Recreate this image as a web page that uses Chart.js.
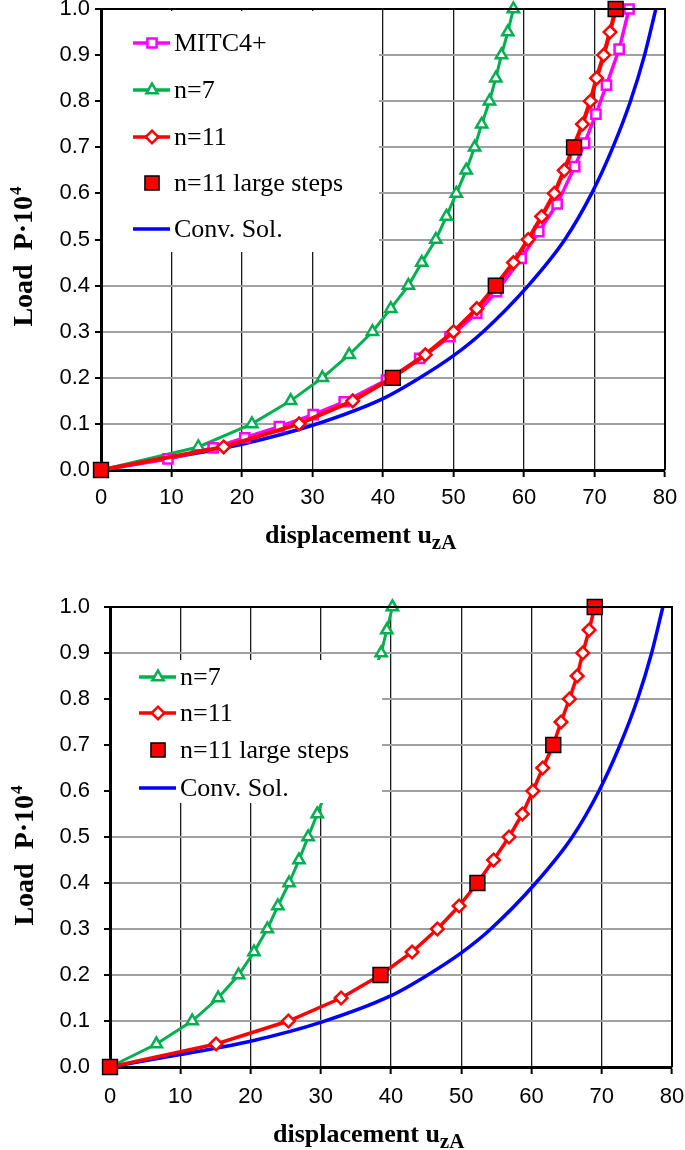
<!DOCTYPE html>
<html>
<head>
    <title>Load - displacement u_zA</title>
    <script src="https://cdn.jsdelivr.net/npm/chart.js"></script>
    <style>
        body { margin: 0; background: #fff; }
        .chart-box { position: absolute; left: 0; }
    </style>
</head>
<body>
    <div class="chart-box" style="top: 0px;"><canvas id="chart-top" width="685" height="560"></canvas></div>
    <div class="chart-box" style="top: 590px;"><canvas id="chart-bottom" width="685" height="560"></canvas></div>

    <script>
        // axis ticks
        const xTicks = [0, 10, 20, 30, 40, 50, 60, 70, 80];
        const yTicks = [0, 0.1, 0.2, 0.3, 0.4, 0.5, 0.6, 0.7, 0.8, 0.9, 1.0];

        // load levels P·10^4 in steps of 0.05
        const loadSteps = [0, 0.05, 0.1, 0.15, 0.2, 0.25, 0.3, 0.35, 0.4, 0.45, 0.5,
                           0.55, 0.6, 0.65, 0.7, 0.75, 0.8, 0.85, 0.9, 0.95, 1.0];

        // converged solution (both plots)
        const convU = [0, 10, 20, 30, 40, 45, 50, 54.2, 60.6, 65.8, 69.6, 72.6, 75.1, 77.1, 78.7];
        const convP = [0, 0.027, 0.056, 0.097, 0.155, 0.198, 0.248, 0.3, 0.4, 0.5, 0.6, 0.7, 0.8, 0.9, 1.0];

        // top plot
        const mitcU = [0, 9.5, 15.9, 20.4, 25.3, 30.1, 34.5, 40.5, 45.2, 49.5, 53.3, 56.1,
                       59.6, 62.1, 64.7, 67.2, 68.6, 70.2, 71.7, 73.5, 74.9];
        const mitcP = [0, 0.024, 0.048, 0.07, 0.094, 0.12, 0.148, 0.195, 0.242, 0.289, 0.34, 0.387,
                       0.459, 0.517, 0.577, 0.658, 0.709, 0.772, 0.835, 0.913, 1.0];
        const n7TopU = [0, 13.8, 21.4, 26.9, 31.4, 35.2, 38.5, 41.1, 43.6, 45.5, 47.5,
                        49.0, 50.4, 51.8, 53.0, 54.0, 55.1, 56.0, 56.8, 57.7, 58.5];
        const n11TopU = [0, 17.4, 28.1, 35.7, 41.3, 46.0, 50.0, 53.3, 56.0, 58.5, 60.6,
                         62.5, 64.3, 65.7, 67.0, 68.3, 69.4, 70.3, 71.3, 72.2, 73.0];
        const bigTopU = [0, 41.4, 56.0, 67.1, 73.0];
        const bigTopP = [0, 0.2, 0.4, 0.7, 1.0];

        // bottom plot
        const n7BotU = [0, 6.6, 11.7, 15.4, 18.3, 20.5, 22.4, 23.9, 25.5, 26.9, 28.2, 29.5, 38.6, 39.4, 40.2];
        const n7BotP = [0, 0.05, 0.1, 0.15, 0.2, 0.25, 0.3, 0.35, 0.4, 0.45, 0.5, 0.55, 0.9, 0.95, 1.0];
        const n11BotU = [0, 15.1, 25.4, 32.9, 38.5, 43.0, 46.6, 49.7, 52.3, 54.6, 56.8,
                         58.7, 60.2, 61.6, 63.1, 64.2, 65.4, 66.5, 67.3, 68.2, 69.0];
        const bigBotU = [0, 38.5, 52.3, 63.1, 69.0];
        const bigBotP = [0, 0.2, 0.4, 0.7, 1.0];

        const MAGENTA = "#ff00ff", GREEN = "#00b050", RED = "#ff0000", BLUE = "#0000ff";
        const SERIF = '"Liberation Serif", "Times New Roman", serif';
        const SANS = '"Liberation Sans", Arial, sans-serif';

        const pts = (u, p) => u.map((v, i) => ({ x: v, y: p[i] }));

        function lineSet(label, u, p, color, style, radius, width, order) {
            return {
                label, data: pts(u, p), showLine: true,
                borderColor: color, borderWidth: width,
                pointStyle: style, pointRadius: radius, pointHoverRadius: radius,
                pointBorderColor: color, pointBackgroundColor: "#fff", pointBorderWidth: 2.5,
                clip: false, order
            };
        }
        function bigSet(u, p) {
            return {
                label: "n=11 large steps", data: pts(u, p), showLine: false,
                pointStyle: "rect", pointRadius: 10.5, pointHoverRadius: 10.5,
                pointBackgroundColor: RED, pointBorderColor: "#000", pointBorderWidth: 1.5,
                clip: false, order: 0
            };
        }
        function convSet() {
            return {
                label: "Conv. Sol.", data: pts(convU, convP), showLine: true,
                borderColor: BLUE, borderWidth: 3.5, pointRadius: 0,
                cubicInterpolationMode: "monotone", clip: false, order: 9
            };
        }

        // white legend box drawn over grid and curves
        const boxLegend = {
            id: "boxLegend",
            afterDatasetsDraw(chart, args, opts) {
                const ctx = chart.ctx;
                const [x0, y0, x1, y1] = opts.box;
                ctx.save();
                ctx.fillStyle = "#fff";
                ctx.fillRect(x0, y0, x1 - x0, y1 - y0);
                ctx.textBaseline = "middle";
                opts.order.forEach((di, row) => {
                    const ds = chart.data.datasets[di];
                    const y = opts.rows[row];
                    if (ds.showLine) {
                        ctx.strokeStyle = ds.borderColor;
                        ctx.lineWidth = 3.5;
                        ctx.beginPath();
                        ctx.moveTo(opts.symX - 19, y);
                        ctx.lineTo(opts.symX + 18, y);
                        ctx.stroke();
                    }
                    if (ds.pointRadius > 0) {
                        ctx.fillStyle = ds.pointBackgroundColor;
                        ctx.strokeStyle = ds.pointBorderColor;
                        ctx.lineWidth = ds.pointBorderWidth;
                        const r = ds.showLine ? ds.pointRadius : ds.pointRadius * 0.95;
                        Chart.helpers.drawPoint(ctx, { pointStyle: ds.pointStyle, radius: r, rotation: 0, borderWidth: ds.pointBorderWidth }, opts.symX, y);
                    }
                    ctx.fillStyle = "#000";
                    ctx.font = "26px " + SERIF;
                    ctx.fillText(ds.label, opts.textX, y + 1);
                });
                ctx.restore();
            }
        };

        // frame on top/right and axis titles
        const frameTitles = {
            id: "frameTitles",
            afterDraw(chart, args, opts) {
                const ctx = chart.ctx;
                const a = chart.chartArea;
                ctx.save();
                ctx.strokeStyle = "#000";
                ctx.lineWidth = 2;
                ctx.beginPath();
                ctx.moveTo(a.left, a.top);
                ctx.lineTo(a.right, a.top);
                ctx.lineTo(a.right, a.bottom);
                ctx.stroke();

                ctx.fillStyle = "#000";
                ctx.textBaseline = "alphabetic";
                ctx.textAlign = "left";
                // x title with subscript
                ctx.font = "bold 26px " + SERIF;
                const main = "displacement u";
                ctx.fillText(main, opts.xTitle[0], opts.xTitle[1]);
                const w = ctx.measureText(main).width;
                ctx.font = "bold 21px " + SERIF;
                ctx.fillText("zA", opts.xTitle[0] + w, opts.xTitle[1] + 6);

                // y title with superscript, rotated
                ctx.translate(opts.yTitle[0], opts.yTitle[1]);
                ctx.rotate(-Math.PI / 2);
                ctx.font = "bold 28px " + SERIF;
                const yMain = "Load  P\u00b710";
                const w1 = ctx.measureText(yMain).width;
                ctx.font = "bold 17px " + SERIF;
                const w2 = ctx.measureText("4").width;
                const start = -(w1 + w2) / 2;
                ctx.font = "bold 28px " + SERIF;
                ctx.fillText(yMain, start, 0);
                ctx.font = "bold 17px " + SERIF;
                ctx.fillText("4", start + w1 + 1, -11);
                ctx.restore();
            }
        };

        function makeScales(yWidth, xHeight, xPad, yPad) {
            return {
                x: {
                    type: "linear", min: 0, max: 80,
                    afterBuildTicks: s => { s.ticks = xTicks.map(v => ({ value: v })); },
                    afterFit: s => { s.height = xHeight; s.paddingLeft = 0; s.paddingRight = 0; },
                    grid: { color: "#1a1a1a", lineWidth: 1.3, tickColor: "#000", tickWidth: 2, tickLength: 7 },
                    border: { color: "#000", width: 3 },
                    ticks: { color: "#000", font: { family: SANS, size: 22 }, padding: xPad, maxRotation: 0 }
                },
                y: {
                    type: "linear", min: 0, max: 1,
                    afterBuildTicks: s => { s.ticks = yTicks.map(v => ({ value: v })); },
                    afterFit: s => { s.width = yWidth; s.paddingTop = 0; s.paddingBottom = 0; },
                    grid: { color: "#a0a0a0", lineWidth: 2, tickColor: "#000", tickWidth: 2, tickLength: 6 },
                    border: { color: "#000", width: 3 },
                    ticks: { color: "#000", font: { family: SANS, size: 22 }, padding: yPad, callback: v => v.toFixed(1) }
                }
            };
        }

        function baseOptions(padding, scales, legendOpts, titleOpts) {
            return {
                responsive: false, animation: false, devicePixelRatio: 1, events: [],
                layout: { padding, autoPadding: false },
                scales,
                plugins: {
                    legend: { display: false },
                    tooltip: { enabled: false },
                    boxLegend: legendOpts,
                    frameTitles: titleOpts
                }
            };
        }

        // top chart: MITC4+, n=7, n=11, large steps, converged
        new Chart(document.getElementById("chart-top"), {
            type: "scatter",
            data: {
                datasets: [
                    lineSet("MITC4+", mitcU, mitcP, MAGENTA, "rect", 6.5, 3.5, 2),
                    lineSet("n=7", n7TopU, loadSteps, GREEN, "triangle", 6.5, 3, 3),
                    lineSet("n=11", n11TopU, loadSteps, RED, "rectRot", 6.3, 4.2, 1),
                    bigSet(bigTopU, bigTopP),
                    convSet()
                ]
            },
            options: baseOptions(
                { top: 9, right: 20, left: 0, bottom: 0 },
                makeScales(101, 90, 8, 5),
                { box: [103, 11, 379, 252], rows: [43, 90, 137, 183, 229], symX: 152, textX: 174, order: [0, 1, 2, 3, 4] },
                { xTitle: [265, 543], yTitle: [32, 257] }
            ),
            plugins: [boxLegend, frameTitles]
        });

        // bottom chart: n=7, n=11, large steps, converged
        new Chart(document.getElementById("chart-bottom"), {
            type: "scatter",
            data: {
                datasets: [
                    lineSet("n=7", n7BotU, n7BotP, GREEN, "triangle", 6.5, 3, 3),
                    lineSet("n=11", n11BotU, loadSteps, RED, "rectRot", 6.3, 3.5, 1),
                    bigSet(bigBotU, bigBotP),
                    convSet()
                ]
            },
            options: baseOptions(
                { top: 17, right: 13, left: 0, bottom: 0 },
                makeScales(110, 83, 10, 14),
                { box: [112, 70, 382, 213], rows: [87, 123, 160, 198], symX: 158, textX: 180, order: [0, 1, 2, 3] },
                { xTitle: [273, 552], yTitle: [33, 266] }
            ),
            plugins: [boxLegend, frameTitles]
        });
    </script>
</body>
</html>
